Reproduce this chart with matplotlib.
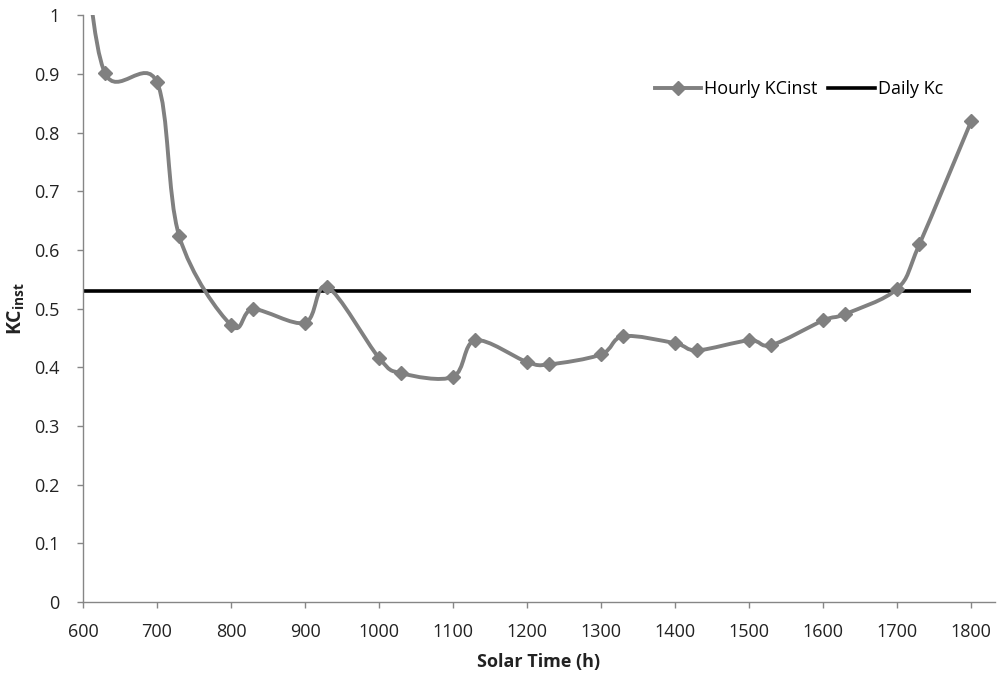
import matplotlib
matplotlib.use("Agg")
import matplotlib.pyplot as plt
from matplotlib.path import Path
from matplotlib.patches import PathPatch
from matplotlib.lines import Line2D
import numpy as np

# datos
solar_time = [600, 630, 700, 730, 800, 830, 900, 930, 1000, 1030, 1100, 1130, 1200,
              1230, 1300, 1330, 1400, 1430, 1500, 1530, 1600, 1630, 1700, 1730, 1800]
kc_hourly = [1.15, 0.901, 0.886, 0.624, 0.472, 0.499, 0.476, 0.537, 0.416, 0.390, 0.384,
             0.446, 0.409, 0.405, 0.422, 0.453, 0.441, 0.429, 0.446, 0.438, 0.480, 0.491,
             0.534, 0.610, 0.820]
kc_daily = 0.53
x_ticks = [600, 700, 800, 900, 1000, 1100, 1200, 1300, 1400, 1500, 1600, 1700, 1800]
y_ticks = [0, 0.1, 0.2, 0.3, 0.4, 0.5, 0.6, 0.7, 0.8, 0.9, 1]
y_tick_labels = ["0", "0.1", "0.2", "0.3", "0.4", "0.5", "0.6", "0.7", "0.8", "0.9", "1"]

plt.rcParams['font.family'] = ['Open Sans', 'DejaVu Sans']
plt.rcParams['mathtext.fontset'] = 'custom'
plt.rcParams['mathtext.rm'] = 'Open Sans'
plt.rcParams['mathtext.bf'] = 'Open Sans:bold'

GRAY = '#808080'
AXIS = '#868686'
TXT = '#222222'


# linea suavizada tipo Excel (Bezier con puntos de control Catmull-Rom)
def smooth_path(xs, ys):
    p = np.column_stack([xs, ys]).astype(float)
    verts = [p[0]]
    codes = [Path.MOVETO]
    n = len(p)
    for i in range(n - 1):
        p0 = p[i - 1] if i > 0 else p[i]
        p1 = p[i]
        p2 = p[i + 1]
        p3 = p[i + 2] if i + 2 < n else p[i + 1]
        c1 = p1 + (p2 - p0) / 6.0
        c2 = p2 - (p3 - p1) / 6.0
        verts += [c1, c2, p2]
        codes += [Path.CURVE4] * 3
    return Path(verts, codes)


fig = plt.figure(figsize=(9.99, 6.81), dpi=100)
ax = fig.add_axes([0.083, 0.116, 0.913, 0.8615])

ax.add_patch(PathPatch(smooth_path(solar_time, kc_hourly), fill=False,
                       edgecolor=GRAY, lw=2.8, zorder=3, capstyle='round'))
ax.plot(solar_time, kc_hourly, linestyle='none', marker='D', markersize=7.5,
        color=GRAY, zorder=4)
ax.hlines(kc_daily, solar_time[0], solar_time[-1], color='black', lw=2.6, zorder=2)

ax.set_xlim(600, 1832)
ax.set_ylim(0, 1)
ax.set_xticks(x_ticks)
ax.set_yticks(y_ticks)
ax.set_yticklabels(y_tick_labels)

for s in ['top', 'right']:
    ax.spines[s].set_visible(False)
for s in ['left', 'bottom']:
    ax.spines[s].set_color(AXIS)
    ax.spines[s].set_linewidth(1.0)
ax.tick_params(axis='both', direction='out', length=4, width=1, color=AXIS,
               labelsize=13, labelcolor=TXT)
ax.tick_params(axis='x', pad=11)
ax.tick_params(axis='y', pad=13)

ax.set_xlabel('Solar Time (h)', fontsize=13, fontweight='bold', color=TXT, labelpad=9)
ax.set_ylabel(r'$\mathbf{KC}_{\mathbf{inst}}$', fontsize=14, color=TXT, labelpad=5)

handles = [Line2D([], [], color=GRAY, lw=2.8, marker='D', markersize=7.5),
           Line2D([], [], color='black', lw=2.6)]
ax.legend(handles, ['Hourly KCinst', 'Daily Kc'], ncol=2, frameon=False,
          loc='center', bbox_to_anchor=(0.785, 0.874), fontsize=13,
          handlelength=2.6, columnspacing=0.6, handletextpad=0.15)

fig.savefig('out.png', dpi=100)
